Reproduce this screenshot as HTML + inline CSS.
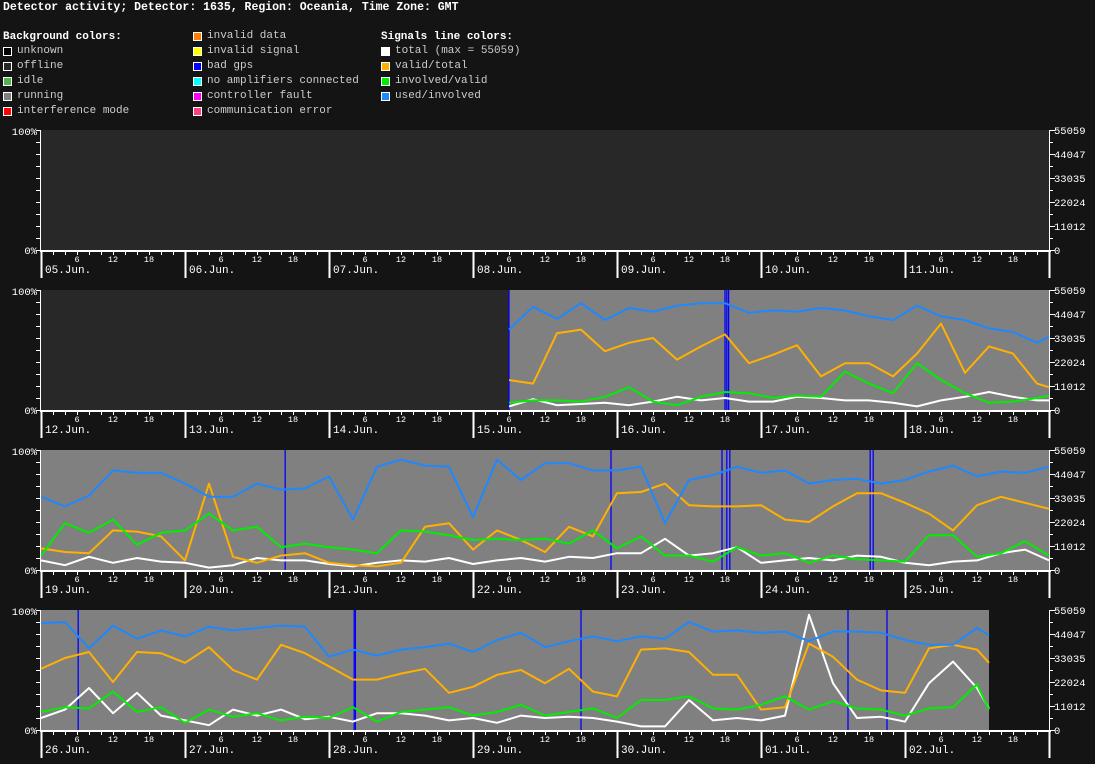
<!DOCTYPE html>
<html><head><meta charset="utf-8">
<style>
html,body{margin:0;padding:0;background:#141414;}
body{width:1095px;height:764px;overflow:hidden;position:relative;font-family:"Liberation Mono",monospace;color:#fff;}
.t{position:absolute;font-size:11px;white-space:pre;line-height:12px;}
.sq{position:absolute;width:9px;height:9px;box-sizing:border-box;border:1px solid #fff;}
</style></head><body>
<div class="t" style="left:3px;top:2px;font-weight:bold;font-size:11.5px;">Detector activity; Detector: 1635, Region: Oceania, Time Zone: GMT</div>
<div>
<div class="t" style="left:3px;top:31px;font-weight:bold;">Background colors:</div>
<div class="sq" style="left:3px;top:47px;background:#000;"></div><div class="t" style="left:17px;top:45px;color:#ccc">unknown</div>
<div class="sq" style="left:3px;top:62px;background:#282828;"></div><div class="t" style="left:17px;top:60px;color:#ccc">offline</div>
<div class="sq" style="left:3px;top:77px;background:#50b450;"></div><div class="t" style="left:17px;top:75px;color:#ccc">idle</div>
<div class="sq" style="left:3px;top:92px;background:#808080;"></div><div class="t" style="left:17px;top:90px;color:#ccc">running</div>
<div class="sq" style="left:3px;top:107px;background:#ff0000;"></div><div class="t" style="left:17px;top:105px;color:#ccc">interference mode</div>
<div class="sq" style="left:193px;top:32px;background:#ff8000;"></div><div class="t" style="left:207px;top:30px;color:#ccc">invalid data</div>
<div class="sq" style="left:193px;top:47px;background:#ffff00;"></div><div class="t" style="left:207px;top:45px;color:#ccc">invalid signal</div>
<div class="sq" style="left:193px;top:62px;background:#0000ff;"></div><div class="t" style="left:207px;top:60px;color:#ccc">bad gps</div>
<div class="sq" style="left:193px;top:77px;background:#00ffff;"></div><div class="t" style="left:207px;top:75px;color:#ccc">no amplifiers connected</div>
<div class="sq" style="left:193px;top:92px;background:#ff00ff;"></div><div class="t" style="left:207px;top:90px;color:#ccc">controller fault</div>
<div class="sq" style="left:193px;top:107px;background:#ff4080;"></div><div class="t" style="left:207px;top:105px;color:#ccc">communication error</div>
<div class="t" style="left:381px;top:31px;font-weight:bold;">Signals line colors:</div>
<div class="sq" style="left:381px;top:47px;background:#fff;"></div><div class="t" style="left:395px;top:45px;color:#ccc">total (max = 55059)</div>
<div class="sq" style="left:381px;top:62px;background:#ffb000;"></div><div class="t" style="left:395px;top:60px;color:#ccc">valid/total</div>
<div class="sq" style="left:381px;top:77px;background:#00ee00;"></div><div class="t" style="left:395px;top:75px;color:#ccc">involved/valid</div>
<div class="sq" style="left:381px;top:92px;background:#1e88ff;"></div><div class="t" style="left:395px;top:90px;color:#ccc">used/involved</div>
</div>
<svg id="chart" width="1095" height="764" style="position:absolute;left:0;top:0;font-family:'Liberation Mono',monospace;"></svg>
<script>
// Panel data: start day labels, running start/end hours, bad-gps hours, series (percent) sampled every 4h
const dayLabels1 = ["05.Jun.","06.Jun.","07.Jun.","08.Jun.","09.Jun.","10.Jun.","11.Jun."];
const dayLabels2 = ["12.Jun.","13.Jun.","14.Jun.","15.Jun.","16.Jun.","17.Jun.","18.Jun."];
const dayLabels3 = ["19.Jun.","20.Jun.","21.Jun.","22.Jun.","23.Jun.","24.Jun.","25.Jun."];
const dayLabels4 = ["26.Jun.","27.Jun.","28.Jun.","29.Jun.","30.Jun.","01.Jul.","02.Jul."];
const runningRange = [null,[78,168],[0,168],[0,158]];
const badGps1 = [];
const badGps2 = [78,114,114.3,114.6];
const badGps3 = [40.7,95,113.5,114.3,114.8,138.2,138.7];
const badGps4 = [6.2,52.2,52.4,90,134.5,141];
const startHours = [0,78,0,0];
const endHours = [0,168,168,158];
const total2 = [3,9,4,5,6,4,7,11,8,10,7,7,11,10,8,8,6,3,8,11,15,11,8,8];
const valid2 = [25,22,64,67,49,56,60,42,53,63,39,46,54,28,39,39,28,47,72,31,53,47,22,19];
const involved2 = [6,8,8,7,11,19,7,4,11,15,14,10,12,11,32,22,14,39,25,14,6,7,10,12];
const used2 = [67,86,76,89,75,85,82,87,89,89,81,83,82,85,83,78,75,87,78,75,68,65,56,61];
const total3 = [8,4,11,6,10,7,6,2,4,10,8,8,5,3,6,8,7,10,5,8,10,7,11,10,14,14,26,12,14,19,6,8,10,8,12,11,6,4,7,8,14,17,8];
const valid3 = [18,15,14,33,32,28,8,72,11,6,12,14,6,4,3,6,36,39,17,33,25,15,36,28,64,65,72,54,53,53,54,42,40,53,64,64,56,47,33,54,61,56,51];
const involved3 = [12,39,31,42,21,31,33,47,33,36,19,22,19,17,14,33,32,29,25,26,25,26,22,33,18,28,12,12,7,19,12,14,6,12,9,8,7,29,29,11,14,24,12];
const used3 = [61,53,62,83,81,81,72,61,61,72,67,68,78,42,86,92,87,86,44,92,75,89,89,83,83,86,39,75,79,86,81,83,72,75,76,72,75,82,87,78,82,81,86];
const total4 = [10,17,35,14,31,12,8,4,17,12,17,9,11,7,14,14,12,8,10,6,12,10,11,10,7,3,3,25,8,10,8,12,96,39,10,11,7,39,57,35,18];
const valid4 = [51,60,65,40,65,64,56,69,50,42,71,64,53,42,42,47,51,31,36,46,50,39,51,32,28,67,68,65,46,46,17,19,72,61,42,33,31,68,71,67,56];
const involved4 = [15,19,18,32,15,19,6,17,11,14,8,11,10,19,7,15,17,19,12,15,21,12,15,18,10,25,25,28,18,17,21,28,17,24,18,17,12,18,19,38,17];
const used4 = [89,90,68,87,76,83,78,86,83,85,87,86,61,67,62,67,69,72,65,75,81,69,74,78,74,78,76,90,82,83,81,82,74,82,82,81,75,71,71,85,79];

const panels = [
  {days:dayLabels1,gps:badGps1,series:null},
  {days:dayLabels2,gps:badGps2,series:[total2,valid2,involved2,used2]},
  {days:dayLabels3,gps:badGps3,series:[total3,valid3,involved3,used3]},
  {days:dayLabels4,gps:badGps4,series:[total4,valid4,involved4,used4]}
];
const seriesNames = ["total-line","valid-total-line","involved-valid-line","used-involved-line"];
const seriesColors = ["#ffffff","#ffb000","#00ee00","#1e88ff"];
const rightTicks = ["55059","44047","33035","22024","11012","0"];

const svg = document.getElementById('chart');
const NS = 'http://www.w3.org/2000/svg';
const X0 = 41, W = 1008, H = 120, HOUR = W/168;
function mk(tag, attrs, parent){const e=document.createElementNS(NS,tag);for(const k in attrs)e.setAttribute(k,attrs[k]);(parent||svg).appendChild(e);return e;}
function xScale(h){return X0 + h*HOUR;}

panels.forEach((p, pi) => {
  const top = 130 + pi*160, bot = top + H;
  const yScale = v => bot - v/100*H;
  const g = mk('g',{});
  
  
  // offline background
  const bgEnd = pi===3 ? xScale(endHours[3]) : X0+W;
  const bg = mk('rect',{x:X0,y:top,width:bgEnd-X0,height:H,fill:'#282828'},g);
  
  
  const rr = runningRange[pi];
  if (rr) {
    const r = mk('rect',{x:xScale(rr[0]),y:top,width:xScale(rr[1])-xScale(rr[0]),height:H,fill:'#808080'},g);
    
    
  }
  p.gps.forEach(h => {
    const l = mk('line',{x1:xScale(h),x2:xScale(h),y1:top,y2:bot,stroke:'#0000ff','stroke-width':1.3},g);
    
    
  });
  if (p.series) {
    p.series.forEach((vals, si) => {
      const pts = vals.map((v,i) => {
        const h = Math.min(startHours[pi] + i*4, endHours[pi]);
        return xScale(h).toFixed(1)+','+yScale(v).toFixed(1);
      }).join(' ');
      const pl = mk('polyline',{points:pts,fill:'none',stroke:seriesColors[si],'stroke-width':2,'stroke-linejoin':'round'},g);
      
      
    });
  }
  // axes
  const ax = mk('g',{stroke:'#fff','stroke-width':1},g);
  
  
  mk('line',{x1:X0-0.5,x2:X0-0.5,y1:top,y2:bot},ax);
  mk('line',{x1:X0+W+0.5,x2:X0+W+0.5,y1:top,y2:bot},ax);
  mk('line',{x1:X0-1,x2:X0+W+2,y1:bot+1,y2:bot+1,'stroke-width':2},ax);
  for (let i=0;i<=10;i++){
    const y = top + i*H/10 + 0.5;
    mk('line',{x1:X0-5,x2:X0,y1:y,y2:y},ax);
    mk('line',{x1:X0+W,x2:X0+W+ (i%2===0?6:4),y1:y,y2:y},ax);
  }
  for (let h=0; h<=168; h+=2){
    const x = Math.round(xScale(h))+0.5;
    if (h%24===0) mk('line',{x1:x,x2:x,y1:bot,y2:bot+28,'stroke-width':2},ax);
    else mk('line',{x1:x,x2:x,y1:bot,y2:bot+5},ax);
  }
  const lt = mk('text',{x:37,y:top+5,fill:'#fff','font-size':10.5,'text-anchor':'end'},g);
  lt.textContent = '100%';
  
  
  const lb = mk('text',{x:37,y:bot+4,fill:'#fff','font-size':10.5,'text-anchor':'end'},g);
  lb.textContent = '0%';
  
  
  rightTicks.forEach((t,i) => {
    const tx = mk('text',{x:1054,y:top + i*H/5 + 4,fill:'#fff','font-size':10.5},g);
    tx.textContent = t;
    
    
  });
  p.days.forEach((d,i) => {
    const x0 = xScale(i*24);
    const dl = mk('text',{x:x0+4,y:bot+23,fill:'#fff','font-size':11},g);
    dl.textContent = d;
    
    
    [6,12,18].forEach(hh => {
      const hl = mk('text',{x:xScale(i*24+hh),y:bot+12,fill:'#fff','font-size':8.5,'text-anchor':'middle'},g);
      hl.textContent = String(hh);
      
      
    });
  });
});
</script>
</body></html>
